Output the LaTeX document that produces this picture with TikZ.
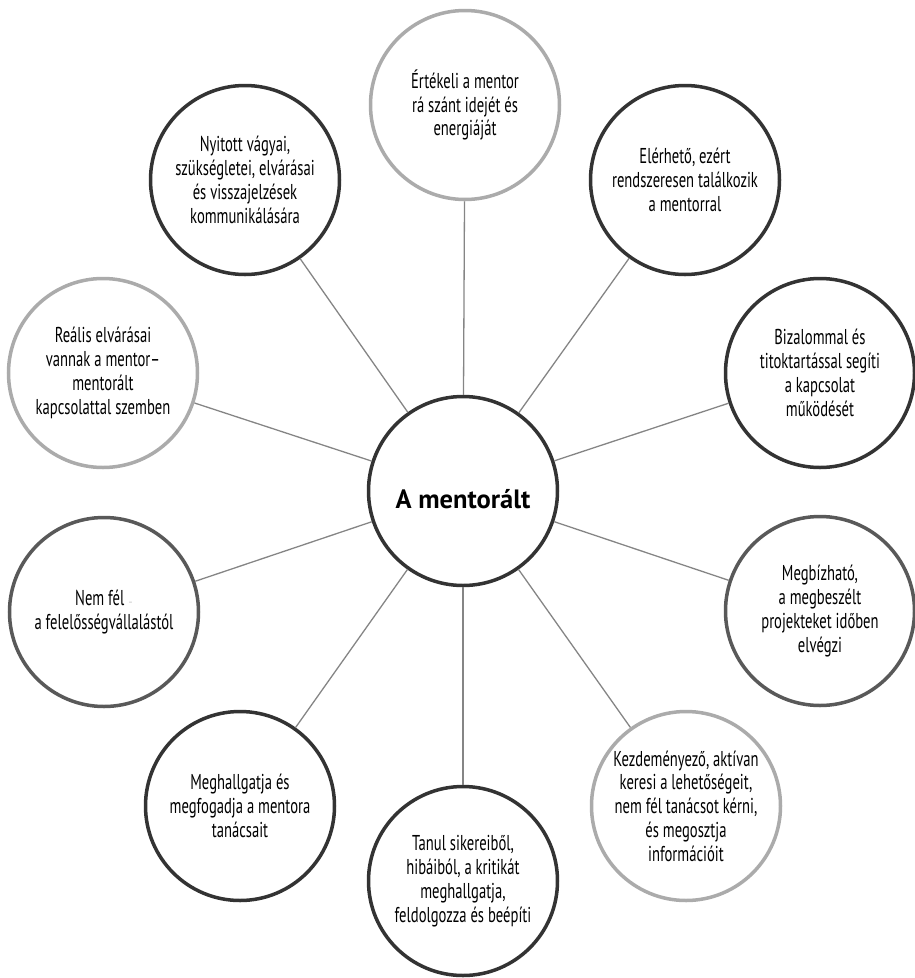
\documentclass[tikz,border=0pt]{standalone}
\usepackage{fontspec}
\setmainfont{PT Sans}[FakeStretch=0.68]
\newfontfamily\ctrfont{PT Sans}
\begin{document}
\begin{tikzpicture}[x=1pt,y=-1pt,
  bub/.style={circle, draw, line width=3.5pt, minimum size=189pt, inner sep=0pt,
    align=center, font=\fontsize{21.5}{23.8}\selectfont, fill=white},
  darkb/.style={bub, draw=black!80},
  midb/.style={bub, draw=black!65},
  lightb/.style={bub, draw=black!33},
  link/.style={draw=black!48, line width=1.3pt}]
\useasboundingbox (0,0) rectangle (915,978);
\node[darkb] (c) at (463,491) {};
\node[font=\ctrfont\bfseries\fontsize{26.5}{30}\selectfont, inner sep=0pt] (ct) at (463,499) {A mentorált};
\node[lightb] (top) at (465,105) {Értékeli a mentor\\rá szánt idejét és\\energiáját};
\node[darkb] (nyit) at (245,180) {Nyitott vágyai,\\szükségletei, elvárásai\\és visszajelzések\\kommunikálására};
\node[lightb] (real) at (103,373) {Reális elvárásai\\vannak a mentor–\\mentorált\\kapcsolattal szemben};
\node[midb] (nem) at (104,612) {Nem fél {\color{black!25}\fontsize{10}{10}\selectfont --}\\a felelősségvállalástól};
\node[darkb] (megh) at (240,806) {Meghallgatja és\\megfogadja a mentora\\tanácsait};
\node[darkb] (tan) at (463,881) {Tanul sikereiből,\\hibáiból, a kritikát\\meghallgatja,\\feldolgozza és beépíti};
\node[lightb] (kezd) at (686,806) {Kezdeményező, aktívan\\keresi a lehetőségeit,\\nem fél tanácsot kérni,\\és megosztja\\információit};
\node[midb] (megb) at (820,611) {Megbízható,\\a megbeszélt\\projekteket időben\\elvégzi};
\node[darkb] (biz) at (820,373) {Bizalommal és\\titoktartással segíti\\a kapcsolat\\működését};
\node[darkb] (elr) at (685,180) {Elérhető, ezért\\rendszeresen találkozik\\a mentorral};
\foreach \n in {top,nyit,real,nem,megh,tan,kezd,megb,biz,elr}
  \draw[link] (c) -- (\n);
\end{tikzpicture}
\end{document}
